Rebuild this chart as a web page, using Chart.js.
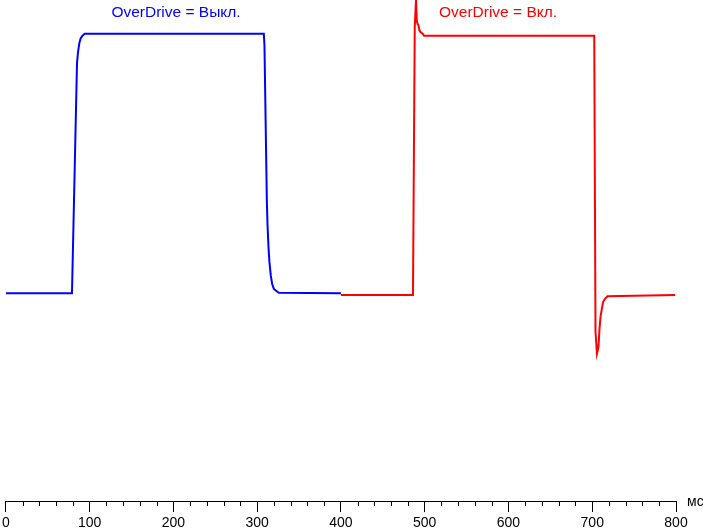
<!DOCTYPE html>
<html>
<head>
<meta charset="utf-8">
<script src="https://cdn.jsdelivr.net/npm/chart.js@4/dist/chart.umd.min.js"></script>
<style>
  html, body { margin: 0; padding: 0; background: #fff; overflow: hidden; }
  #wrap { width: 703px; height: 530px; overflow: hidden; position: relative; }
  #mychart { position: absolute; left: -2px; top: 0; }
</style>
</head>
<body>
<div id="wrap"><canvas id="mychart" width="705" height="534"></canvas></div>
<script>
// время, мс / уровень яркости, % (0 = чёрный, 100 = белый)
const blueTime  = [0, 78.9, 84.9, 86.1, 87.7, 89.3, 91.3, 94, 307.9, 308.7, 311.5, 312.3, 313.5, 314.6, 316.3, 317.9, 319.9, 322.6, 325.8, 400];
const blueLevel = [0, 0, 88.7, 92.9, 96.4, 98.3, 99.2, 100, 100, 95.6, 36.2, 26.6, 17.8, 12.1, 6.7, 3.6, 1.7, 1.0, 0.2, 0];

const redTime  = [400, 486, 488.1, 489.6, 490.5, 491.3, 492.5, 493.7, 495.2, 497.6, 499.2, 702.4, 703.9, 705.6, 707.5, 708.7, 709.9, 711.5, 713.1, 715.1, 718.2, 799];
const redLevel = [-0.6, -0.6, 102.5, 113, 105.2, 104, 103.3, 101.3, 100.6, 100, 99.2, 99.2, -14.8, -23.2, -20.5, -13.6, -9, -5.9, -3.3, -2.1, -1.1, -0.6];

const xTicksMajor = [0, 100, 200, 300, 400, 500, 600, 700, 800];
const unitLabel = 'мс';
const labelOff = 'OverDrive = Выкл.';
const labelOn = 'OverDrive = Вкл.';

function pts(t, v) {
  return t.map((x, i) => ({ x: x, y: v[i] }));
}

const FONT = "'Liberation Sans', Arial, sans-serif";

// мелкие засечки и подписи
const extras = {
  id: 'extras',
  afterDraw(chart) {
    const ctx = chart.ctx;
    const xs = chart.scales.x;
    const bottom = chart.chartArea.bottom;
    ctx.save();
    ctx.strokeStyle = '#000';
    ctx.lineWidth = 1;
    ctx.beginPath();
    xs.ticks.forEach(t => {
      if (xTicksMajor.includes(t.value)) return;
      const px = Math.round(xs.getPixelForValue(t.value)) + 0.5;
      ctx.moveTo(px, bottom);
      ctx.lineTo(px, bottom + 5);
    });
    ctx.stroke();

    ctx.fillStyle = '#000';
    ctx.font = '14px ' + FONT;
    ctx.textAlign = 'left';
    ctx.textBaseline = 'alphabetic';
    ctx.fillText(unitLabel, xs.right + 11, bottom + 5);

    ctx.font = '15.5px ' + FONT;
    ctx.textAlign = 'center';
    ctx.fillStyle = '#0000ff';
    ctx.fillText(labelOff, 178, 17);
    ctx.fillStyle = '#ff0000';
    ctx.fillText(labelOn, 500, 17);
    ctx.restore();
  }
};

const canvas = document.getElementById('mychart');

const grafico = new Chart(canvas, {
  type: 'line',
  data: {
    datasets: [
      {
        data: pts(blueTime, blueLevel),
        borderColor: '#0000ff',
        borderWidth: 2,
        pointRadius: 0,
        tension: 0
      },
      {
        data: pts(redTime, redLevel),
        borderColor: '#ff0000',
        borderWidth: 2,
        pointRadius: 0,
        tension: 0
      }
    ]
  },
  options: {
    responsive: false,
    animation: false,
    devicePixelRatio: 1,
    layout: { padding: { top: 0, right: 27, bottom: 0, left: 0 } },
    plugins: {
      legend: { display: false },
      tooltip: { enabled: false }
    },
    scales: {
      x: {
        type: 'linear',
        min: 0,
        max: 800,
        grid: {
          drawOnChartArea: false,
          drawTicks: true,
          tickLength: 11,
          tickColor: c => (c.tick && xTicksMajor.includes(c.tick.value)) ? '#000' : 'rgba(0,0,0,0)'
        },
        border: { display: true, color: '#000', width: 1 },
        ticks: {
          stepSize: 20,
          autoSkip: false,
          maxRotation: 0,
          padding: 4,
          color: '#000',
          font: { family: FONT, size: 14, lineHeight: 1 },
          callback: v => xTicksMajor.includes(v) ? String(v) : ''
        }
      },
      y: {
        display: false,
        min: -80,
        max: 113
      }
    }
  },
  plugins: [extras]
});
</script>
</body>
</html>
